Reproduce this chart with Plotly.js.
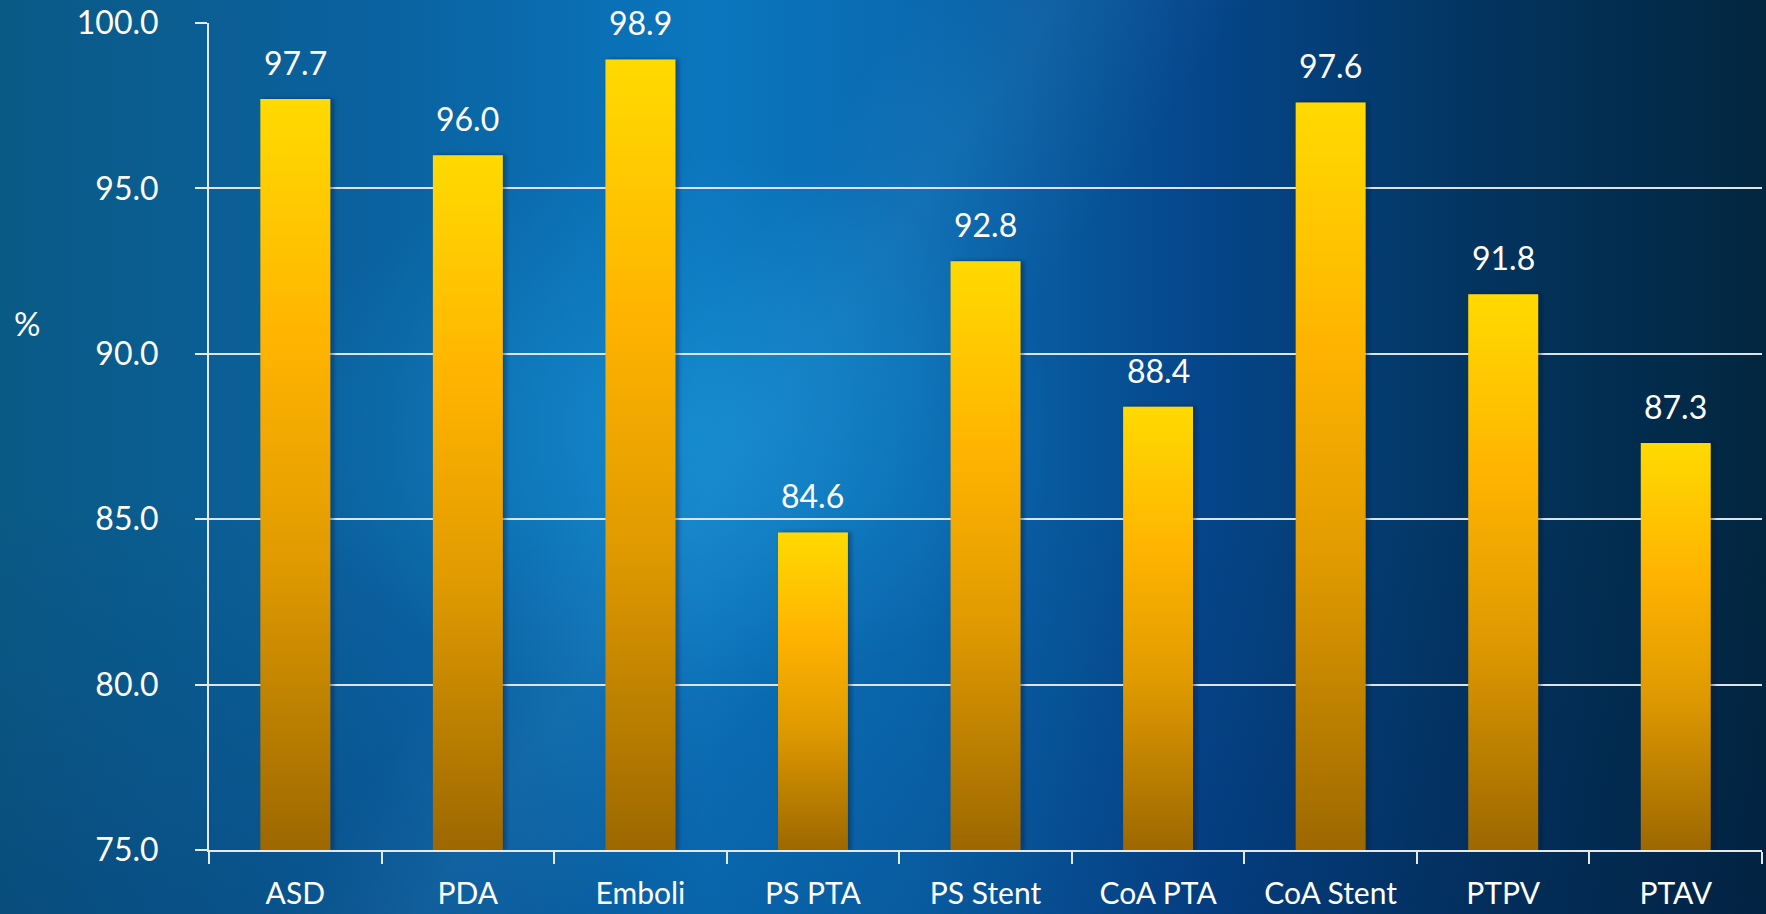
<!DOCTYPE html>
<html>
<head>
<meta charset="utf-8">
<script src="https://cdn.plot.ly/plotly-3.0.1.min.js"></script>
<style>
  html, body { margin: 0; padding: 0; width: 1766px; height: 914px; overflow: hidden; }
  #bg {
    position: absolute; left: 0; top: 0; width: 1766px; height: 914px;
    background:
      radial-gradient(ellipse 22% 30% at 38% 47%, rgba(30,160,225,0.45), rgba(30,160,225,0) 100%),
      linear-gradient(125deg, rgba(255,255,255,0) 38%, rgba(120,200,240,0.08) 44%, rgba(255,255,255,0) 52%),
      linear-gradient(to bottom, rgba(0,0,0,0) 55%, rgba(0,20,80,0.18) 100%),
      linear-gradient(to right, #0A5A86 0%, #0A62A0 22%, #0B76BE 40%, #0A6AB0 52%, #05468A 68%, #03345F 84%, #02263F 100%);
  }
  #chart { position: absolute; left: 0; top: 0; width: 1766px; height: 914px; }
</style>
</head>
<body>
<div id="bg"></div>
<div id="chart"></div>
<script>
const categories = ["ASD", "PDA", "Emboli", "PS PTA", "PS Stent", "CoA PTA", "CoA Stent", "PTPV", "PTAV"];
const values = [97.7, 96.0, 98.9, 84.6, 92.8, 88.4, 97.6, 91.8, 87.3];
const yTickValues = [75, 80, 85, 90, 95, 100];
const yMin = 75, yMax = 100;

const FONT = "Lato, 'Open Sans', sans-serif";

const trace = {
  type: "bar",
  x: categories,
  y: values.map(v => v - yMin),
  base: yMin,
  marker: { color: "#FFB400", line: { width: 0 } },
  hoverinfo: "skip"
};

const annotations = categories.map((c, i) => ({
  x: c, y: values[i], xref: "x", yref: "y",
  text: values[i].toFixed(1), showarrow: false,
  yanchor: "bottom", yshift: 15,
  font: { family: FONT, size: 32, color: "#FFFFFF" }
}));
annotations.push({
  xref: "paper", yref: "paper", x: -0.117, y: 0.637,
  text: "%", showarrow: false, xanchor: "center", yanchor: "middle",
  font: { family: FONT, size: 33, color: "#FFFFFF" }
});

const layout = {
  width: 1766, height: 914,
  margin: { l: 209, r: 4, t: 23, b: 64, pad: 0 },
  paper_bgcolor: "rgba(0,0,0,0)",
  plot_bgcolor: "rgba(0,0,0,0)",
  showlegend: false,
  bargap: 0.595,
  font: { family: FONT, color: "#FFFFFF" },
  xaxis: {
    type: "category",
    showline: true, linecolor: "#E8E8E8", linewidth: 2,
    ticks: "outside", tickson: "boundaries", ticklen: 12, tickwidth: 2, tickcolor: "#E8E8E8",
    showgrid: false, zeroline: false,
    tickfont: { family: FONT, size: 30, color: "#FFFFFF" },
    ticklabelstandoff: 16,
    fixedrange: true
  },
  yaxis: {
    range: [yMin, yMax],
    tickvals: yTickValues,
    ticktext: yTickValues.map(v => v.toFixed(1)),
    showline: true, linecolor: "#E8E8E8", linewidth: 2,
    ticks: "outside", ticklen: 12, tickwidth: 2, tickcolor: "#E8E8E8",
    showgrid: true, gridcolor: "#DDE3E8", gridwidth: 2,
    zeroline: false,
    tickfont: { family: FONT, size: 32, color: "#FFFFFF" },
    ticklabelstandoff: 30,
    fixedrange: true
  },
  annotations: annotations
};

Plotly.newPlot("chart", [trace], layout, { displayModeBar: false, staticPlot: true }).then(gd => {
  const NS = "http://www.w3.org/2000/svg";
  const svg = gd.querySelector("svg.main-svg");
  let defs = svg.querySelector("defs");
  if (!defs) { defs = document.createElementNS(NS, "defs"); svg.insertBefore(defs, svg.firstChild); }
  const grad = document.createElementNS(NS, "linearGradient");
  grad.setAttribute("id", "barGrad");
  grad.setAttribute("x1", "0"); grad.setAttribute("y1", "0");
  grad.setAttribute("x2", "0"); grad.setAttribute("y2", "1");
  [["0", "#FFDA00"], ["0.32", "#FFB400"], ["0.62", "#E09A00"], ["1", "#9C6800"]].forEach(([o, c]) => {
    const s = document.createElementNS(NS, "stop");
    s.setAttribute("offset", o); s.setAttribute("stop-color", c);
    grad.appendChild(s);
  });
  defs.appendChild(grad);
  const filt = document.createElementNS(NS, "filter");
  filt.setAttribute("id", "barShadow");
  filt.setAttribute("x", "-20%"); filt.setAttribute("y", "-5%");
  filt.setAttribute("width", "140%"); filt.setAttribute("height", "110%");
  const ds = document.createElementNS(NS, "feDropShadow");
  ds.setAttribute("dx", "3"); ds.setAttribute("dy", "0");
  ds.setAttribute("stdDeviation", "2"); ds.setAttribute("flood-color", "#001830");
  ds.setAttribute("flood-opacity", "0.45");
  filt.appendChild(ds);
  defs.appendChild(filt);
  gd.querySelectorAll(".trace.bars .point path").forEach(p => {
    p.style.fill = "url(#barGrad)";
    p.setAttribute("filter", "url(#barShadow)");
  });
});
</script>
</body>
</html>
